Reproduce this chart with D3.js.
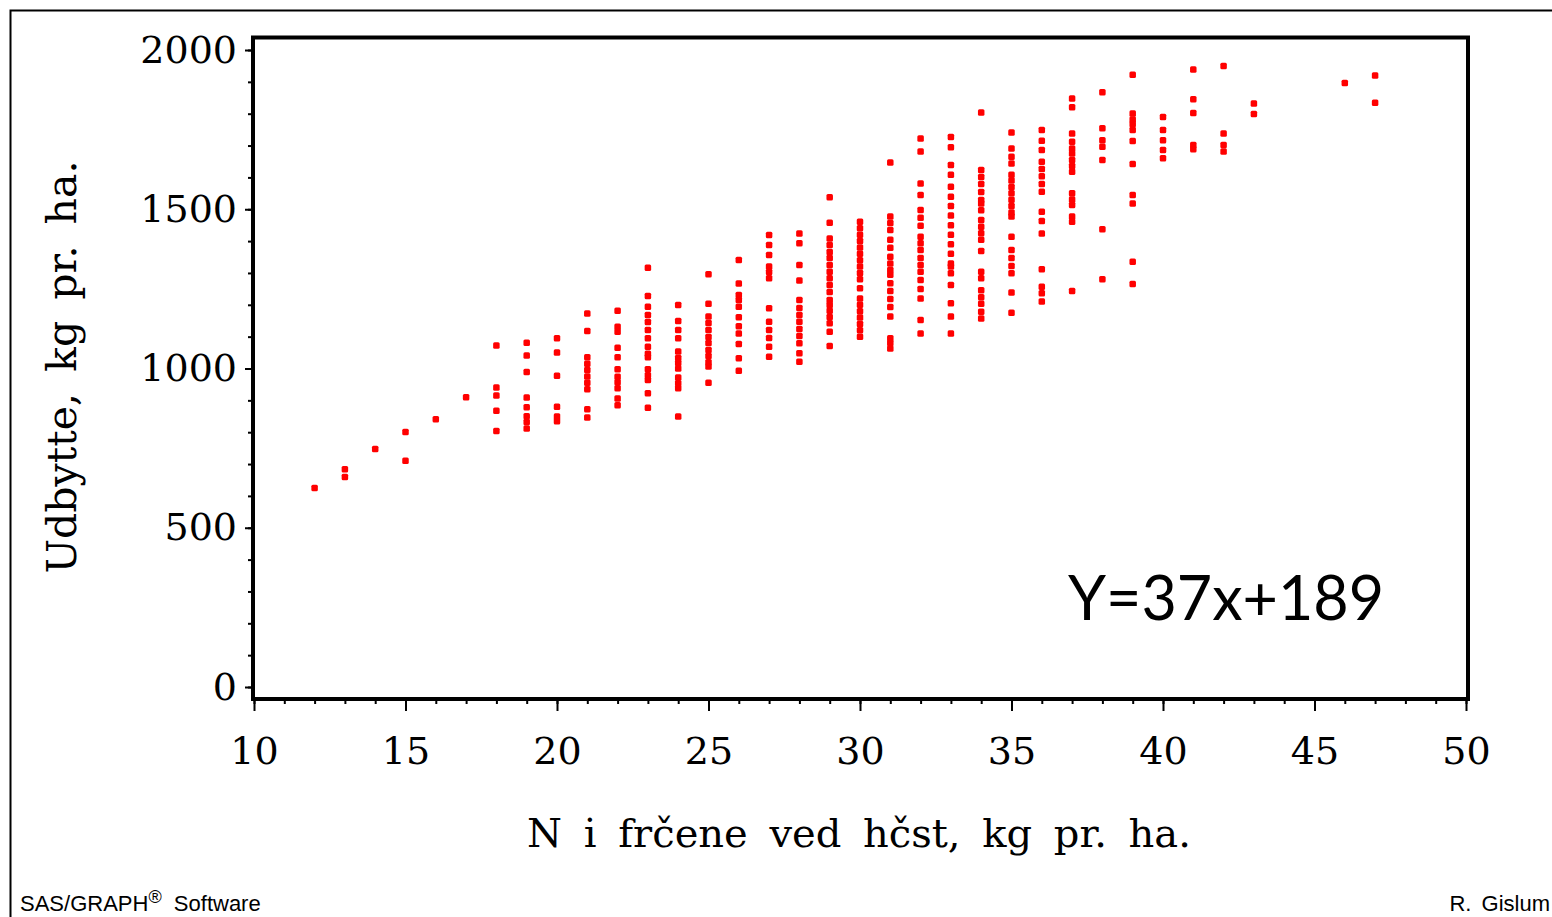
<!DOCTYPE html>
<html><head><meta charset="utf-8">
<script src="https://cdn.jsdelivr.net/npm/d3@7"></script>
<style>html,body{margin:0;padding:0;background:#fff;}svg{display:block;}</style>
</head><body>
<script>
// N in fresh matter at harvest (kg/ha) – one column of observations per value
const nLevels = [12,13,14,15,16,17,18,19,20,21,22,23,24,25,26,27,28,29,30,31,32,33,34,35,36,37,38,39,40,41,42,43,46,47];
// Yield (kg/ha) observations for each N level
const yields = [
  [625],
  [684,659],
  [747],
  [801,710],
  [841],
  [910],
  [1072,940,915,867,804],
  [1081,1041,989,909,878,850,832,812],
  [1095,1050,977,880,849,834],
  [1173,1118,1035,1015,995,975,955,935,872,846],
  [1181,1131,1115,1065,1035,998,974,957,938,906,885],
  [1316,1228,1194,1168,1146,1121,1095,1068,1046,1035,998,979,964,922,877],
  [1199,1149,1121,1095,1053,1033,1017,1000,972,954,938,849],
  [1296,1203,1163,1143,1121,1099,1080,1058,1039,1020,1006,955],
  [1341,1267,1231,1215,1194,1161,1133,1110,1077,1032,993],
  [1419,1388,1356,1320,1303,1283,1189,1147,1121,1096,1068,1037],
  [1424,1393,1325,1276,1215,1190,1168,1147,1124,1102,1079,1048,1021],
  [1538,1458,1408,1388,1366,1347,1325,1304,1283,1262,1240,1215,1199,1181,1162,1142,1115,1071],
  [1461,1440,1420,1400,1380,1360,1340,1320,1300,1280,1252,1220,1200,1180,1160,1140,1120,1100],
  [1647,1477,1457,1435,1404,1379,1351,1330,1309,1294,1268,1243,1218,1193,1163,1095,1080,1063],
  [1722,1681,1581,1545,1498,1473,1448,1414,1393,1372,1347,1325,1304,1278,1250,1220,1152,1110],
  [1727,1695,1639,1608,1571,1539,1510,1480,1450,1420,1390,1360,1330,1320,1299,1262,1205,1163,1110],
  [1804,1623,1601,1579,1554,1529,1518,1497,1466,1445,1425,1404,1369,1304,1283,1246,1224,1203,1178,1157],
  [1741,1691,1665,1644,1608,1590,1570,1550,1530,1510,1490,1477,1414,1372,1347,1322,1299,1239,1175],
  [1749,1715,1686,1649,1626,1604,1579,1555,1492,1463,1424,1312,1257,1236,1210],
  [1848,1820,1738,1712,1691,1675,1655,1636,1618,1550,1531,1513,1477,1461,1243],
  [1867,1754,1717,1696,1655,1437,1280],
  [1922,1801,1782,1767,1749,1714,1642,1545,1518,1335,1265],
  [1790,1749,1717,1686,1660],
  [1939,1845,1802,1702,1688],
  [1950,1738,1702,1681],
  [1832,1799],
  [1896],
  [1920,1834]
];
const xTicks = [10,15,20,25,30,35,40,45,50];
const yTicks = [0,500,1000,1500,2000];
const xTitle = "N i frčene ved hčst, kg pr. ha.";
const yTitle = "Udbytte, kg pr. ha.";
const equation = "Y=37x+189";
const footLeft = "SAS/GRAPH";
const footRight = "R. Gislum";

const W = 1552, H = 917;
const svg = d3.select("body").append("svg").attr("width", W).attr("height", H);

// outer page border (open at right/bottom as in reference)
svg.append("path").attr("d", `M10.5,${H} L10.5,10.5 L${W},10.5`)
  .attr("fill","none").attr("stroke","#000").attr("stroke-width",2);

const x = d3.scaleLinear().domain([10,50]).range([254,1466]);
const y = d3.scaleLinear().domain([0,2000]).range([687,50]);
const frame = {l:253, r:1468, t:37.5, b:699};

const serif = "'DejaVu Serif', serif";

// x axis ticks (minor every 1, major every 5)
const xg = svg.append("g").attr("transform",`translate(0,${frame.b})`);
xg.call(d3.axisBottom(x).ticks(40).tickSize(5).tickFormat(""))
  .call(g=>g.select(".domain").remove())
  .call(g=>g.selectAll("line").attr("stroke-width",2));
const xg2 = svg.append("g").attr("transform",`translate(0,${frame.b})`);
xg2.call(d3.axisBottom(x).tickValues(xTicks).tickSize(12).tickPadding(26).tickFormat(d3.format("d")))
  .call(g=>g.select(".domain").remove())
  .call(g=>g.selectAll("line").attr("stroke-width",2))
  .call(g=>g.selectAll("text").attr("font-family",serif).attr("font-size",38).attr("fill","#000"));

// y axis ticks (minor every 100)
const yg = svg.append("g").attr("transform",`translate(${frame.l},0)`);
yg.call(d3.axisLeft(y).tickValues(d3.range(0,2001,100)).tickSize(5).tickFormat(""))
  .call(g=>g.select(".domain").remove())
  .call(g=>g.selectAll("line").attr("stroke-width",2));
const yg2 = svg.append("g").attr("transform",`translate(${frame.l},0)`);
yg2.call(d3.axisLeft(y).tickValues(yTicks).tickSize(8).tickPadding(8).tickFormat(d3.format("d")))
  .call(g=>g.select(".domain").remove())
  .call(g=>g.selectAll("line").attr("stroke-width",2))
  .call(g=>g.selectAll("text").attr("font-family",serif).attr("font-size",38).attr("fill","#000"));

// frame
svg.append("rect").attr("x",frame.l).attr("y",frame.t)
  .attr("width",frame.r-frame.l).attr("height",frame.b-frame.t)
  .attr("fill","none").attr("stroke","#000").attr("stroke-width",4);

// points
const pts = [];
nLevels.forEach((n,i)=>yields[i].forEach(v=>pts.push({n,v})));
svg.append("g").selectAll("rect").data(pts).join("rect")
  .attr("x",d=>x(d.n)-3.25).attr("y",d=>y(d.v)-3.25)
  .attr("width",6.5).attr("height",6.5).attr("rx",1.5)
  .attr("fill","#ff0000");

// titles
svg.append("text").attr("x",859).attr("y",847).attr("text-anchor","middle")
  .attr("font-family",serif).attr("font-size",40).attr("word-spacing",9)
  .text(xTitle);
svg.append("text").attr("transform","translate(76,367) rotate(-90)").attr("text-anchor","middle")
  .attr("font-family",serif).attr("font-size",41).attr("word-spacing",8)
  .text(yTitle);

// equation
svg.append("text").attr("x",1068).attr("y",620)
  .attr("font-family","Lato, 'DejaVu Sans', sans-serif").attr("font-size",61)
  .text(equation);

// footers
const fl = svg.append("text").attr("x",20).attr("y",911)
  .attr("font-family","'Liberation Sans', Arial, sans-serif").attr("font-size",22).attr("fill","#000");
fl.append("tspan").text(footLeft);
fl.append("tspan").attr("font-size",18).attr("dy",-8).text("®");
fl.append("tspan").attr("dy",8).text("\u00a0\u00a0Software");
svg.append("text").attr("x",1550).attr("y",911).attr("text-anchor","end")
  .attr("font-family","'Liberation Sans', Arial, sans-serif").attr("font-size",22).attr("word-spacing",4)
  .text(footRight);
</script>
</body></html>
